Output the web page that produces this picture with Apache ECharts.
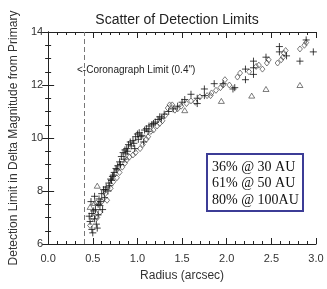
<!DOCTYPE html>
<html>
<head>
<meta charset="utf-8">
<script src="https://cdn.jsdelivr.net/npm/echarts@6/dist/echarts.min.js"></script>
<style>html,body{margin:0;padding:0;background:#fff}#c{width:327px;height:289px}</style>
</head>
<body>
<div id="c"></div>
<script>
var titleText = 'Scatter of Detection Limits';
var xAxisName = 'Radius (arcsec)';
var yAxisName = 'Detection Limit in Delta Magnitude from Primary';
var coronagraphLimit = 0.4;
var coronagraphText = '<-Coronagraph Limit (0.4")';
var legendLines = ['36% @ 30 AU', '61% @ 50 AU', '80% @ 100AU'];

var plusPoints = [
  [0.50,6.42],[0.55,6.60],[0.47,6.85],[0.52,6.95],[0.46,7.05],[0.49,7.15],[0.53,7.30],[0.56,7.10],
  [0.58,7.45],[0.61,7.30],[0.48,7.60],[0.52,7.80],[0.57,7.70],[0.60,7.90],[0.63,7.75],[0.62,8.05],
  [0.65,8.15],[0.67,8.00],[0.68,8.30],[0.70,8.45],[0.72,8.55],[0.74,8.70],[0.76,8.85],[0.78,8.95],
  [0.80,9.10],[0.82,9.30],[0.84,9.45],[0.86,9.55],[0.88,9.60],[0.90,9.75],[0.92,9.85],[0.95,9.90],
  [0.98,10.05],[1.00,10.15],[1.02,10.20],[1.05,10.10],[1.08,10.30],[1.10,10.35],[1.13,10.45],
  [1.16,10.50],[1.20,10.60],[1.23,10.70],[1.27,10.75],[1.30,10.90],[1.35,11.00],[1.40,11.10],
  [1.45,11.20],[1.50,11.35],[1.53,11.45],[1.60,11.65],[1.67,11.30],[1.67,11.50],[1.75,11.60],
  [1.75,11.85],[1.86,12.05],[1.96,12.05],[2.07,11.85],[2.09,11.90],[2.21,12.20],[2.21,12.60],
  [2.30,12.40],[2.30,12.65],[2.30,12.90],[2.44,13.05],[2.59,13.25],[2.59,13.45],[2.67,13.10],
  [2.82,12.90],[2.89,13.70],[2.97,13.25],
  [0.51,7.25],[0.56,7.50],[0.59,7.60],[0.64,8.05],[0.69,8.20],[0.71,8.40],[0.73,8.60],[0.77,8.80],
  [0.81,9.00],[0.85,9.20],[0.87,9.40],[0.89,9.50],[0.93,9.70],[0.96,9.80],[1.01,9.95],[1.04,10.05],
  [0.97,9.60],[1.07,9.85],[0.54,6.75],[0.49,6.55],[1.12,10.25],[1.18,10.55],[1.25,10.80]
];
var diamondPoints = [
  [0.47,6.70],[0.50,7.00],[0.55,7.00],[0.58,7.20],[0.54,7.55],[0.60,7.60],[0.64,7.90],[0.66,7.65],
  [0.70,8.10],[0.73,8.35],[0.77,8.50],[0.80,8.70],[0.83,8.90],[0.86,9.05],[0.88,9.17],[0.91,9.28],
  [0.95,9.36],[0.98,9.45],[1.03,9.60],[1.06,9.75],[1.10,9.95],[1.12,10.05],[1.15,10.25],[1.18,10.30],
  [1.22,10.45],[1.25,10.55],[1.28,10.65],[1.31,10.85],[1.34,11.13],[1.36,11.25],[1.39,11.25],
  [1.42,11.05],[1.45,11.10],[1.49,11.20],[1.55,11.30],[1.60,11.40],[1.65,11.35],[1.70,11.55],
  [1.78,11.60],[1.82,11.60],[1.83,11.70],[1.88,11.80],[1.93,11.90],[1.96,12.00],[1.98,12.20],
  [2.03,12.00],[2.12,12.30],[2.15,12.45],[2.25,12.50],[2.33,12.70],[2.36,12.75],[2.40,12.60],
  [2.45,12.83],[2.47,12.95],[2.57,12.83],[2.61,12.95],[2.63,13.05],[2.64,13.20],[2.66,13.30],
  [2.82,13.36],[2.89,13.60],[2.87,13.50]
];
var trianglePoints = [
  [0.47,7.40],[0.55,8.20],[0.52,7.55],[1.53,11.05],[1.94,11.40],[2.28,11.60],[2.44,11.85],[2.82,12.00]
];

var xMin = 0, xMax = 3, xInterval = 0.5;
var yMin = 6, yMax = 14, yInterval = 2;

var chart = echarts.init(document.getElementById('c'));
var fontFam = 'Liberation Sans';
var axisCommon = function(extra){
  var o = {
    axisLine:{show:true,lineStyle:{color:'#222',width:1}},
    axisTick:{show:true,inside:true,length:6,lineStyle:{color:'#222'}},
    minorTick:{show:true,length:3,lineStyle:{color:'#222'}},
    splitLine:{show:false},
    axisLabel:{color:'#333',fontFamily:fontFam,fontSize:11}
  };
  for (var k in extra) o[k]=extra[k];
  return o;
};
var plusSymbol = 'path://M5 0L5 10M0 5L10 5';
chart.setOption({
  animation:false,
  backgroundColor:'#fff',
  grid:{left:39,right:11,top:32,bottom:45},
  xAxis:[
    axisCommon({type:'value',min:xMin,max:xMax,interval:xInterval,position:'bottom',
      name:xAxisName,nameLocation:'middle',nameGap:26,
      nameTextStyle:{color:'#333',fontFamily:fontFam,fontSize:12},
      minorTick:{show:true,splitNumber:5,length:3,lineStyle:{color:'#222'}},
      axisLabel:{color:'#333',fontFamily:fontFam,fontSize:11,margin:9,formatter:function(v){return v.toFixed(1);}}}),
    axisCommon({type:'value',min:xMin,max:xMax,interval:xInterval,position:'top',
      minorTick:{show:true,splitNumber:5,length:3,lineStyle:{color:'#222'}},
      axisLabel:{show:false}})
  ],
  yAxis:[
    axisCommon({type:'value',min:yMin,max:yMax,interval:yInterval,position:'left',
      name:yAxisName,nameLocation:'middle',nameGap:25,
      nameTextStyle:{color:'#333',fontFamily:fontFam,fontSize:12},
      minorTick:{show:true,splitNumber:4,length:3,lineStyle:{color:'#222'}},
      axisLabel:{color:'#333',fontFamily:fontFam,fontSize:11,margin:5}}),
    axisCommon({type:'value',min:yMin,max:yMax,interval:yInterval,position:'right',
      minorTick:{show:true,splitNumber:4,length:3,lineStyle:{color:'#222'}},
      axisLabel:{show:false}})
  ],
  series:[
    {type:'scatter',data:diamondPoints,symbol:'diamond',symbolSize:[5,6],
      itemStyle:{color:'transparent',borderColor:'#333',borderWidth:0.8},
      markLine:{silent:true,symbol:'none',label:{show:false},
        lineStyle:{color:'#777',type:[5,3],width:1},
        data:[{xAxis:coronagraphLimit}]}},
    {type:'scatter',data:trianglePoints,symbol:'triangle',symbolSize:[6,5],
      itemStyle:{color:'transparent',borderColor:'#333',borderWidth:0.8}},
    {type:'scatter',data:plusPoints,symbol:plusSymbol,symbolSize:7,
      itemStyle:{color:'transparent',borderColor:'#111',borderWidth:1}}
  ],
  graphic:[
    {type:'text',x:177,y:20,style:{text:titleText,fill:'#222',font:'14px '+fontFam,textAlign:'center',textVerticalAlign:'middle'}},
    {type:'text',x:77,y:70,style:{text:coronagraphText,fill:'#222',font:'10px '+fontFam,textAlign:'left',textVerticalAlign:'middle'}},
    {type:'rect',shape:{x:207,y:154,width:96,height:57},style:{fill:'#fff',stroke:'#3c3c96',lineWidth:2},z:10},
    {type:'text',x:212,y:167,z:11,style:{text:legendLines[0],fill:'#111',font:'14px "Liberation Serif"',textVerticalAlign:'middle'}},
    {type:'text',x:212,y:183,z:11,style:{text:legendLines[1],fill:'#111',font:'14px "Liberation Serif"',textVerticalAlign:'middle'}},
    {type:'text',x:212,y:200,z:11,style:{text:legendLines[2],fill:'#111',font:'14px "Liberation Serif"',textVerticalAlign:'middle'}}
  ]
});
</script>
</body>
</html>
